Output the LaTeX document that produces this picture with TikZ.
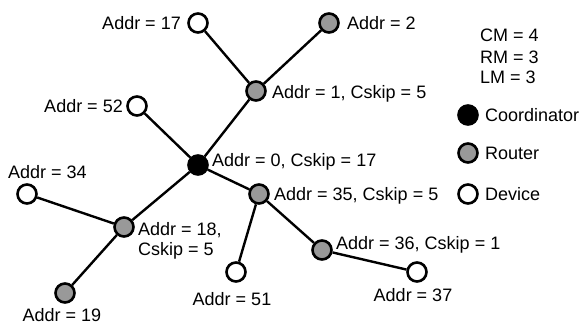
\documentclass[tikz,border=0pt]{standalone}
\usepackage{fontspec}
\setmainfont{Liberation Sans}
\definecolor{rgrey}{gray}{0.6}
\begin{document}
\begin{tikzpicture}[x=1pt,y=-1pt,
  dev/.style={circle,draw,line width=2.6pt,fill=white,minimum size=19pt,inner sep=0pt},
  rtr/.style={dev,fill=rgrey},
  crd/.style={dev,fill=black},
  lbl/.style={font=\fontsize{18}{20}\selectfont,inner sep=0pt},
  link/.style={line width=2.4pt}]
\useasboundingbox (0,0) rectangle (580,324);
% nodes
\node[crd] (c0) at (198,165) {};
\node[rtr] (r1) at (256,91) {};
\node[dev] (d17) at (198,23) {};
\node[rtr] (r2) at (329,23) {};
\node[dev] (d52) at (137,106) {};
\node[dev] (d34) at (27,194) {};
\node[rtr] (r18) at (124,227) {};
\node[rtr] (r19) at (65,293) {};
\node[rtr] (r35) at (259,194) {};
\node[dev] (d51) at (236,272) {};
\node[rtr] (r36) at (322,250) {};
\node[dev] (d37) at (417,272) {};
% links
\draw[link] (c0) -- (r1);
\draw[link] (r1) -- (d17);
\draw[link] (r1) -- (r2);
\draw[link] (c0) -- (d52);
\draw[link] (c0) -- (r18);
\draw[link] (r18) -- (d34);
\draw[link] (r18) -- (r19);
\draw[link] (c0) -- (r35);
\draw[link] (r35) -- (d51);
\draw[link] (r35) -- (r36);
\draw[link] (r36) -- (d37);
% labels
\node[lbl,anchor=base east] (t17) at (181,29) {Addr = 17};
\node[lbl,anchor=base west] (t2) at (347,29) {Addr = 2};
\node[lbl,anchor=base west] (t1) at (272,98) {Addr = 1, Cskip = 5};
\node[lbl,anchor=base east] (t52) at (123,112) {Addr = 52};
\node[lbl,anchor=base west] (t0) at (212,166) {Addr = 0, Cskip = 17};
\node[lbl,anchor=base west] (t34) at (8,178) {Addr = 34};
\node[lbl,anchor=base west] (t18a) at (138,235) {Addr = 18,};
\node[lbl,anchor=base west] (t18b) at (138,255) {Cskip = 5};
\node[lbl,anchor=base] (t19) at (62,321) {Addr = 19};
\node[lbl,anchor=base] (t51) at (232,305) {Addr = 51};
\node[lbl,anchor=base west] (t35) at (274,200) {Addr = 35, Cskip = 5};
\node[lbl,anchor=base west] (t36) at (336,249) {Addr = 36, Cskip = 1};
\node[lbl,anchor=base] (t37) at (413,301) {Addr = 37};
% parameters
\node[lbl,anchor=base west] (cm) at (480,41) {CM = 4};
\node[lbl,anchor=base west] (rm) at (480,63) {RM = 3};
\node[lbl,anchor=base west] (lm) at (480,83) {LM = 3};
% legend
\node[crd] (lc) at (468,115) {};
\node[rtr] (lr) at (468,153) {};
\node[dev] (ld) at (468,194) {};
\node[lbl,anchor=base west] (tlc) at (485,121) {Coordinator};
\node[lbl,anchor=base west] (tlr) at (485,159) {Router};
\node[lbl,anchor=base west] (tld) at (485,200) {Device};
\end{tikzpicture}
\end{document}
